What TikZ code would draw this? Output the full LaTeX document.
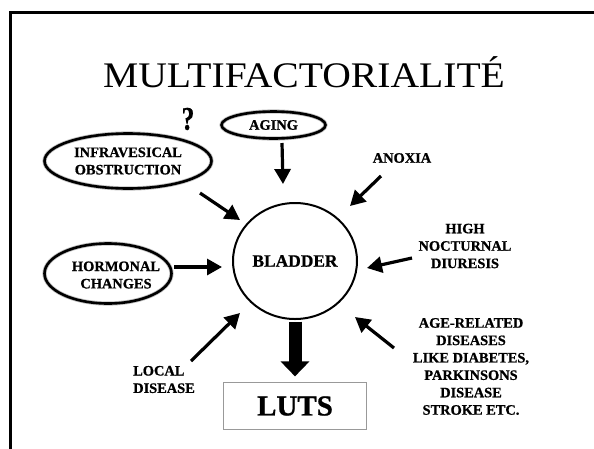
\documentclass[tikz,border=0pt]{standalone}
\usepackage{fontspec}
\setmainfont[BoldFeatures={FakeBold=0.8}]{Liberation Serif}
\usetikzlibrary{arrows.meta,shapes.geometric}
\begin{document}
\begin{tikzpicture}[x=1pt,y=-1pt,
  lab/.style={font=\bfseries\fontsize{14.4}{17.4}\selectfont, align=center, inner sep=0pt},
  oval/.style={ellipse, draw, line width=2.6pt, inner sep=0pt, preaction={draw=black!25, line width=4.2pt}},
  arr/.style={line width=3.2pt, -{Triangle[length=15pt,width=16pt]}},
]
\useasboundingbox (0,0) rectangle (594,448);
\draw[line width=2.5pt] (10.3,470) -- (10.3,12.3) -- (620,12.3);

% title
\node[anchor=base, inner sep=0pt, font=\fontsize{36}{40}\selectfont] (title) at (304,87) {\scalebox{1.1}[1]{MULTIFACTORIALITÉ}};
\node[inner sep=0pt, font=\bfseries\fontsize{33}{36}\selectfont] (q) at (188,119) {\scalebox{0.78}[1]{?}};

% nodes
\node[oval, lab, minimum width=104pt, minimum height=27pt] (aging) at (273.5,125) {AGING};
\node[oval, lab, minimum width=167pt, minimum height=55pt] (infra) at (128,161) {INFRAVESICAL\\OBSTRUCTION};
\node[oval, minimum width=127pt, minimum height=60pt] (horm) at (108,273.5) {};
\node[lab] (hormtext) at (116,275) {HORMONAL\\CHANGES};
\node[ellipse, draw, line width=2pt, minimum width=124pt, minimum height=116pt, inner sep=0pt,
      font=\bfseries\fontsize{17.4}{20}\selectfont] (bladder) at (295,261) {BLADDER};
\node[draw=black!40, line width=1.2pt, minimum width=143pt, minimum height=47pt, inner sep=0pt,
      font=\bfseries\fontsize{29}{32}\selectfont] (luts) at (295,406) {LUTS};

\node[lab] (anoxia) at (402,158) {ANOXIA};
\node[lab] (high) at (465,246) {HIGH\\NOCTURNAL\\DIURESIS};
\node[lab, align=left, anchor=west] (local) at (133,379.5) {LOCAL\\DISEASE};
\node[lab] (age) at (471,366.5) {AGE-RELATED\\DISEASES\\LIKE DIABETES,\\PARKINSONS\\DISEASE\\STROKE ETC.};

% arrow end points
\coordinate (agS) at (282,143);  \coordinate (agE) at (283,184);
\coordinate (inS) at (200,193);  \coordinate (inE) at (240,220);
\coordinate (hoS) at (174,267);  \coordinate (hoE) at (222,267);
\coordinate (anS) at (381,176);  \coordinate (anE) at (350,206);
\coordinate (hiS) at (412,258);  \coordinate (hiE) at (367,268);
\coordinate (loS) at (191,361);  \coordinate (loE) at (240,313);
\coordinate (arS) at (394,348);  \coordinate (arE) at (355,317);

\draw[arr] (agS) -- (agE);
\draw[arr] (inS) -- (inE);
\draw[arr] (hoS) -- (hoE);
\draw[arr] (anS) -- (anE);
\draw[arr] (hiS) -- (hiE);
\draw[arr] (loS) -- (loE);
\draw[arr] (arS) -- (arE);

\draw[line width=13pt, -{Triangle[length=15pt,width=28pt]}, shorten <=1.5pt, shorten >=5.5pt] (bladder.south) -- (luts.north);
\end{tikzpicture}
\end{document}
